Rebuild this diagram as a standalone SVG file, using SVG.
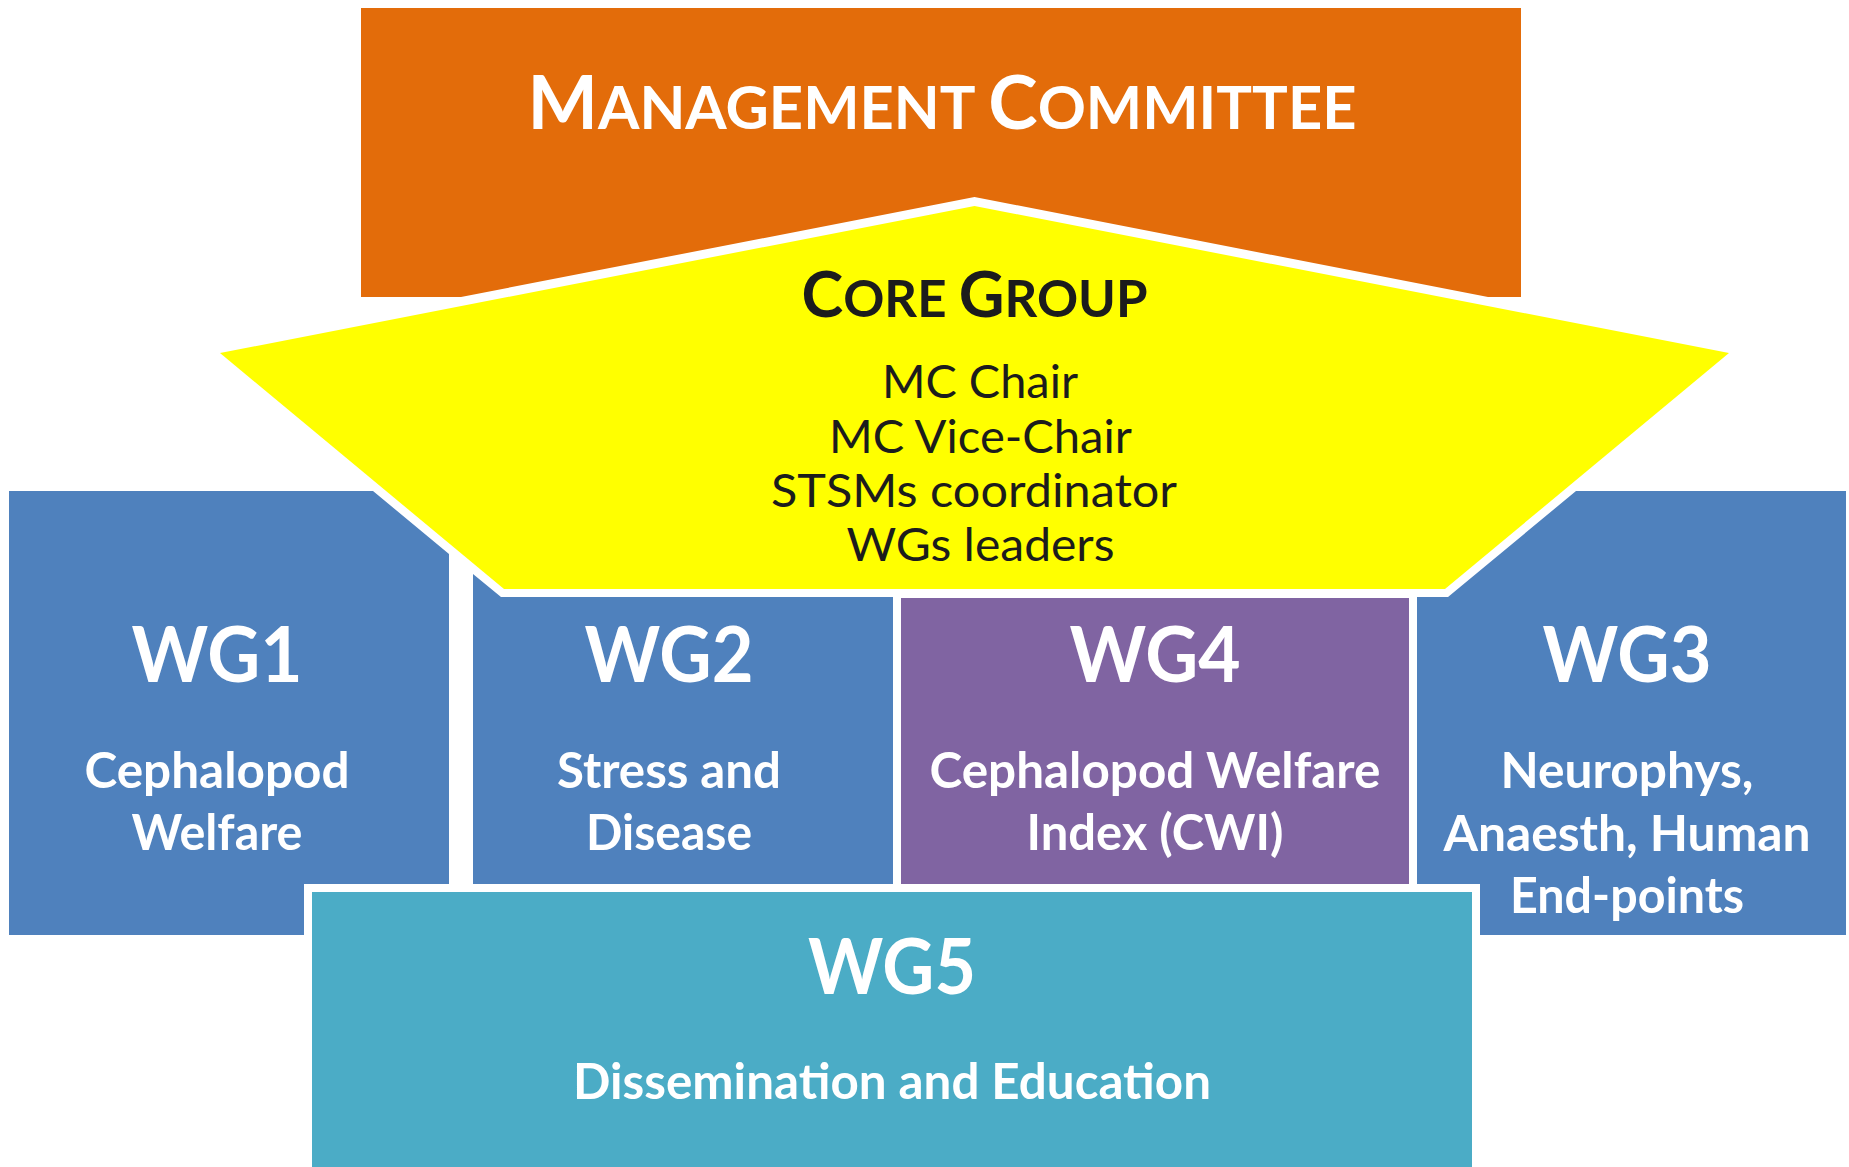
<svg xmlns="http://www.w3.org/2000/svg" width="1849" height="1167" viewBox="0 0 1849 1167">
<style>
text{font-family:Lato,"Liberation Sans",sans-serif;text-anchor:middle}
.w{fill:#FFFFFF;font-weight:bold}
.d{fill:#1C1C1C}
.t{font-size:76px}
.s{font-size:50px}
.blue{fill:#4F81BD}
</style>
<rect width="1849" height="1167" fill="#FFFFFF"/>
<g id="mc">
<polygon points="361,8 1521,8 1521,297 1488,297 974.5,197 461,297 361,297" fill="#E36C0A"/>
<text class="w" x="942" y="129" textLength="829" lengthAdjust="spacingAndGlyphs"><tspan font-size="75">M</tspan><tspan font-size="60">ANAGEMENT </tspan><tspan font-size="75">C</tspan><tspan font-size="60">OMMITTEE</tspan></text>
</g>
<g id="wg1">
<polygon class="blue" points="9,491 373,491 449,554 449,884 304,884 304,935 9,935"/>
<text class="w t" x="217" y="682" textLength="171" lengthAdjust="spacingAndGlyphs">WG1</text>
<text class="w s" x="217" y="788" textLength="265" lengthAdjust="spacingAndGlyphs">Cephalopod</text>
<text class="w s" x="217" y="850" textLength="171" lengthAdjust="spacingAndGlyphs">Welfare</text>
</g>
<g id="wg2">
<polygon class="blue" points="473,574 501,597 893,597 893,884 473,884"/>
<text class="w t" x="669" y="682" textLength="169" lengthAdjust="spacingAndGlyphs">WG2</text>
<text class="w s" x="669" y="788" textLength="224" lengthAdjust="spacingAndGlyphs">Stress and</text>
<text class="w s" x="669" y="850" textLength="166" lengthAdjust="spacingAndGlyphs">Disease</text>
</g>
<g id="wg4">
<rect x="901" y="598" width="508" height="286" fill="#8064A2"/>
<text class="w t" x="1155" y="682" textLength="171" lengthAdjust="spacingAndGlyphs">WG4</text>
<text class="w s" x="1155" y="788" textLength="451" lengthAdjust="spacingAndGlyphs">Cephalopod Welfare</text>
<text class="w s" x="1155" y="850" textLength="257" lengthAdjust="spacingAndGlyphs">Index (CWI)</text>
</g>
<g id="wg3">
<polygon class="blue" points="1417,597 1448,597 1576,491 1846,491 1846,935 1480,935 1480,884 1417,884"/>
<text class="w t" x="1627" y="682" textLength="169" lengthAdjust="spacingAndGlyphs">WG3</text>
<text class="w s" x="1627" y="788" textLength="253" lengthAdjust="spacingAndGlyphs">Neurophys,</text>
<text class="w s" x="1627" y="851" textLength="367" lengthAdjust="spacingAndGlyphs">Anaesth, Human</text>
<text class="w s" x="1627" y="913" textLength="234" lengthAdjust="spacingAndGlyphs">End-points</text>
</g>
<g id="wg5">
<rect x="312" y="892" width="1160" height="280" fill="#4BACC6"/>
<text class="w t" x="892" y="994" textLength="168" lengthAdjust="spacingAndGlyphs">WG5</text>
<text class="w s" x="892" y="1099" textLength="638" lengthAdjust="spacingAndGlyphs">Dissemination and Education</text>
</g>
<g id="core">
<polygon points="220,353 974.5,206 1729,353 1445,589 504,589" fill="#FFFF00"/>
<text class="d" font-weight="bold" x="974.5" y="317"><tspan font-size="63">C</tspan><tspan font-size="51">ORE </tspan><tspan font-size="63">G</tspan><tspan font-size="51">ROUP</tspan></text>
<text class="d" font-size="46" x="980" y="398" textLength="196" lengthAdjust="spacingAndGlyphs">MC Chair</text>
<text class="d" font-size="46" x="980.5" y="453" textLength="303" lengthAdjust="spacingAndGlyphs">MC Vice-Chair</text>
<text class="d" font-size="46" x="974" y="507" textLength="406" lengthAdjust="spacingAndGlyphs">STSMs coordinator</text>
<text class="d" font-size="46" x="980.5" y="561" textLength="268" lengthAdjust="spacingAndGlyphs">WGs leaders</text>
</g>
<g id="connectors"/>
</svg>
